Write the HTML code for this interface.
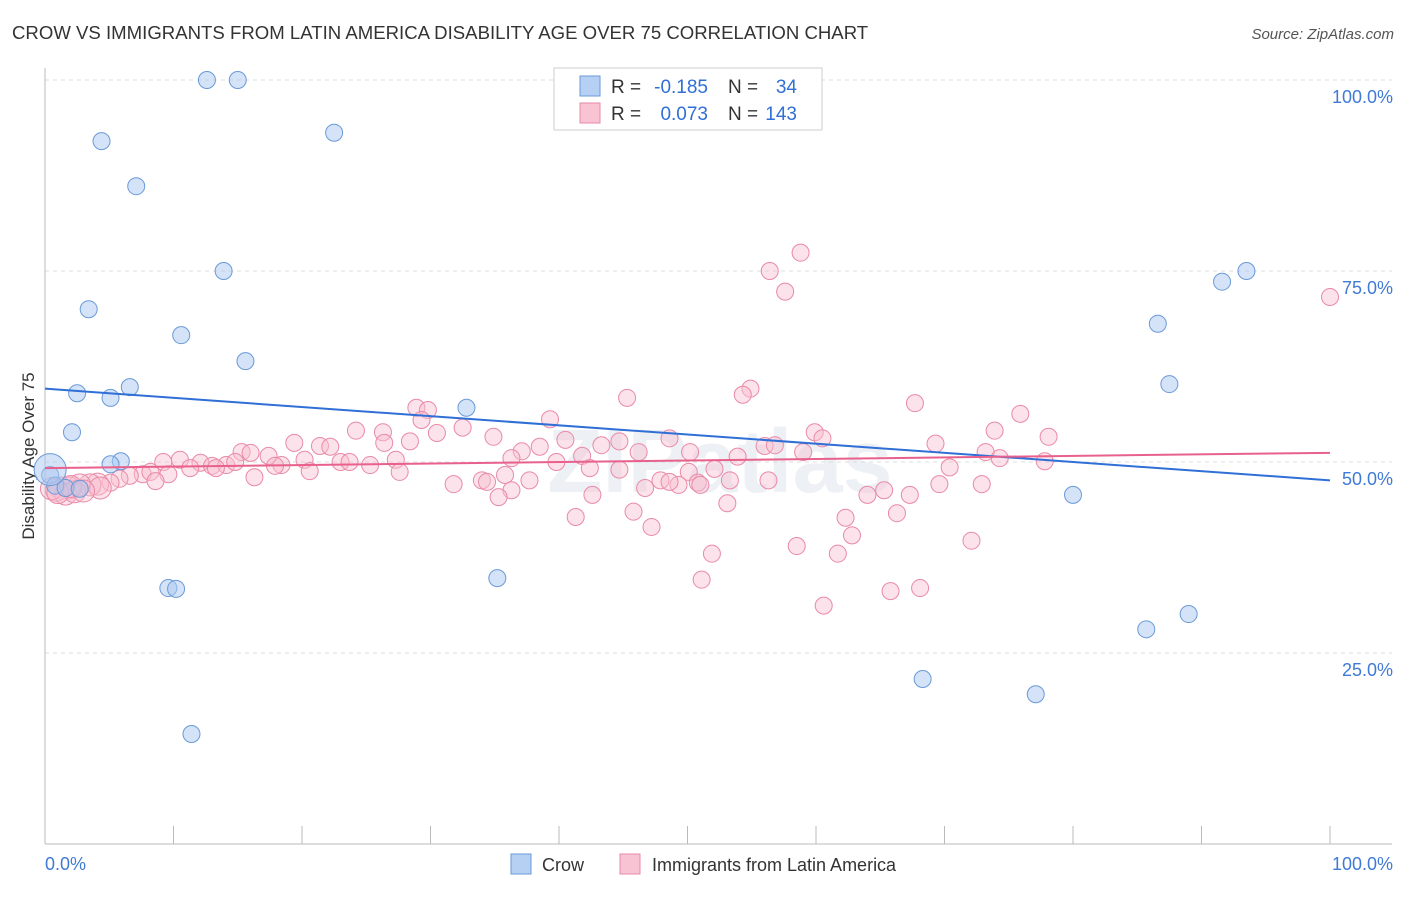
<!DOCTYPE html>
<html><head><meta charset="utf-8"><style>
body{margin:0;background:#fff;font-family:"Liberation Sans",sans-serif;}
svg text{font-family:"Liberation Sans",sans-serif;}
</style></head><body>
<svg id="chart" width="1406" height="892" xmlns="http://www.w3.org/2000/svg">
<text x="12" y="39" font-size="18.6" fill="#333">CROW VS IMMIGRANTS FROM LATIN AMERICA DISABILITY AGE OVER 75 CORRELATION CHART</text>
<text x="1394" y="39" font-size="15" fill="#555" font-style="italic" text-anchor="end">Source: ZipAtlas.com</text>
<text x="34" y="456" font-size="17" fill="#333" text-anchor="middle" transform="rotate(-90 34 456)">Disability Age Over 75</text>
<text x="720" y="492" font-size="90" fill="#edf0f5" text-anchor="middle" font-weight="bold">ZIPatlas</text>
<g id="grid"></g>
<g id="pts"></g>
<g id="lines"></g>
<g>
<rect x="554" y="68" width="268" height="62" fill="#fff" stroke="#ccc"/>
<rect x="580" y="76" width="20" height="20" fill="#b5d0f3" stroke="#6a9ad8"/>
<rect x="580" y="103" width="20" height="20" fill="#f8c3d3" stroke="#e98aa8"/>
<text x="611" y="93" font-size="19" fill="#333">R =</text>
<text x="708" y="93" font-size="19" fill="#2f6fd6" text-anchor="end">-0.185</text>
<text x="728" y="93" font-size="19" fill="#333">N =</text>
<text x="797" y="93" font-size="19" fill="#2f6fd6" text-anchor="end">34</text>
<text x="611" y="120" font-size="19" fill="#333">R =</text>
<text x="708" y="120" font-size="19" fill="#2f6fd6" text-anchor="end">0.073</text>
<text x="728" y="120" font-size="19" fill="#333">N =</text>
<text x="797" y="120" font-size="19" fill="#2f6fd6" text-anchor="end">143</text>
</g>
<g>
<rect x="511" y="854" width="20" height="20" fill="#b5d0f3" stroke="#6a9ad8"/>
<text x="542" y="871" font-size="18" fill="#333">Crow</text>
<rect x="620" y="854" width="20" height="20" fill="#f8c3d3" stroke="#e98aa8"/>
<text x="652" y="871" font-size="18" fill="#333">Immigrants from Latin America</text>
</g>
</svg>
<script>
const yTicks=[100,75,50,25];
const yTickLabels=["100.0%","75.0%","50.0%","25.0%"];
const xEndLabels=["0.0%","100.0%"];
const crowX=[12.6,15.0,4.4,22.5,7.1,13.9,3.4,10.6,15.6,6.6,2.5,5.1,2.1,32.8,5.9,5.1,0.4,0.8,1.6,2.7,9.6,10.2,35.2,11.4,68.3,77.1,85.7,89.0,80.0,86.6,87.5,91.6,93.5,0.4];
const crowY=[100,100,92.0,93.1,86.1,75.0,70.0,66.6,63.2,59.8,59.0,58.4,53.9,57.1,50.1,49.7,48.3,46.9,46.6,46.5,33.5,33.4,34.8,14.4,21.6,19.6,28.1,30.1,45.7,68.1,60.2,73.6,75.0,49.0];
const imX=[58.8,56.4,57.6,100,45.3,54.9,54.3,67.7,28.9,29.8,39.3,75.9,29.3,32.5,30.5,24.2,59.9,26.3,34.9,40.5,48.6,60.5,78.1,73.9,28.4,26.4,44.7,19.4,21.4,15.3,16.0,17.4,22.2,56.0,56.8,69.3,37.1,38.5,41.8,43.3,46.2,50.2,53.9,59.0,73.2,74.3,20.2,23.0,23.7,25.3,27.3,10.5,9.2,12.1,13.0,14.1,14.8,18.4,17.9,11.3,13.3,9.6,7.6,8.2,6.6,5.8,5.1,4.1,3.5,2.7,1.9,1.2,0.9,1.6,2.3,4.3,8.6,16.3,20.6,27.6,36.3,39.8,42.4,44.7,47.9,50.1,52.1,53.3,56.3,70.4,77.8,31.8,34.0,34.4,35.8,37.7,36.3,42.6,46.7,49.3,50.8,64.0,65.3,67.3,69.6,72.9,35.3,53.1,41.3,45.8,47.2,62.3,66.3,62.8,51.9,58.5,61.7,72.1,51.1,60.6,65.8,68.1,48.6,51.0,0.5,1.0,2.0,3.0];
const imY=[77.4,75.0,72.3,71.6,58.4,59.6,58.8,57.7,57.1,56.8,55.6,56.3,55.5,54.5,53.8,54.1,53.9,53.9,53.3,52.9,53.1,53.1,53.3,54.1,52.7,52.5,52.7,52.5,52.1,51.3,51.2,50.8,52.0,52.1,52.2,52.4,51.4,52.0,50.8,52.2,51.3,51.3,50.7,51.3,51.3,50.5,50.3,50.0,50.0,49.6,50.3,50.3,50.0,49.9,49.5,49.6,50.0,49.6,49.5,49.2,49.2,48.4,48.4,48.7,48.2,47.8,47.3,47.1,47.0,47.0,46.6,46.6,46.3,45.8,46.1,46.6,47.5,48.0,48.8,48.7,50.5,50.0,49.2,49.0,47.6,48.7,49.1,47.6,47.6,49.3,50.1,47.1,47.6,47.4,48.3,47.6,46.3,45.7,46.6,47.0,47.3,45.7,46.3,45.7,47.1,47.1,45.4,44.6,42.8,43.5,41.5,42.7,43.3,40.4,38.0,39.0,38.0,39.7,34.6,31.2,33.1,33.5,47.4,47.0,46.5,46.0,46.8,46.2];
const crowTrend=[59.6,47.6];
const imTrend=[49.2,51.2];
const NS="http://www.w3.org/2000/svg";
const X0=45,X1=1330,Ytop=80,Ybot=844;
function sx(v){return X0+(X1-X0)*v/100;}
function sy(v){return Ybot-(Ybot-Ytop)*v/100;}
function mk(tag,attrs,parent){const e=document.createElementNS(NS,tag);for(const k in attrs)e.setAttribute(k,attrs[k]);parent.appendChild(e);return e;}
const grid=document.getElementById('grid');
yTicks.forEach((t,i)=>{
 const l=mk('line',{x1:X0,x2:1392,y1:sy(t),y2:sy(t),stroke:'#ddd','stroke-dasharray':'4,4'},grid);
 
 
 const tx=mk('text',{x:1393,y:sy(t)+23,'font-size':18,fill:'#3f7ad6','text-anchor':'end'},grid);
 tx.textContent=yTickLabels[i];
 
 
});
const ax=mk('line',{x1:X0,x2:X0,y1:68,y2:Ybot,stroke:'#bbb'},grid);


const bx=mk('line',{x1:X0,x2:1392,y1:Ybot,y2:Ybot,stroke:'#bbb'},grid);


for(let i=0;i<=10;i++){
 const t=mk('line',{x1:sx(i*10),x2:sx(i*10),y1:826,y2:Ybot,stroke:'#bbb'},grid);
 
 
}
[[0,'start',45],[100,'end',1393]].forEach((d,i)=>{
 const tx=mk('text',{x:d[2],y:870,'font-size':18,fill:'#3f7ad6','text-anchor':d[1]},grid);
 tx.textContent=xEndLabels[i];
 
 
});
const pts=document.getElementById('pts');
imX.forEach((x,i)=>{
 const big=x<5;
 const c=mk('circle',{cx:sx(x),cy:sy(imY[i]),r:big?11:8.5,fill:'#f8bfd1','fill-opacity':0.45,stroke:'#e98aa8','stroke-width':1},pts);
 
 
});
crowX.forEach((x,i)=>{
 const c=mk('circle',{cx:sx(x),cy:sy(crowY[i]),r:i==crowX.length-1?16:8.5,fill:'#a9c8ef','fill-opacity':0.5,stroke:'#6a9ad8','stroke-width':1},pts);
 
 
});
const lines=document.getElementById('lines');
const l1=mk('line',{x1:sx(0),x2:sx(100),y1:sy(crowTrend[0]),y2:sy(crowTrend[1]),stroke:'#2f6fd6','stroke-width':2},lines);


const l2=mk('line',{x1:sx(0),x2:sx(100),y1:sy(imTrend[0]),y2:sy(imTrend[1]),stroke:'#e8608c','stroke-width':2},lines);


</script>
</body></html>
